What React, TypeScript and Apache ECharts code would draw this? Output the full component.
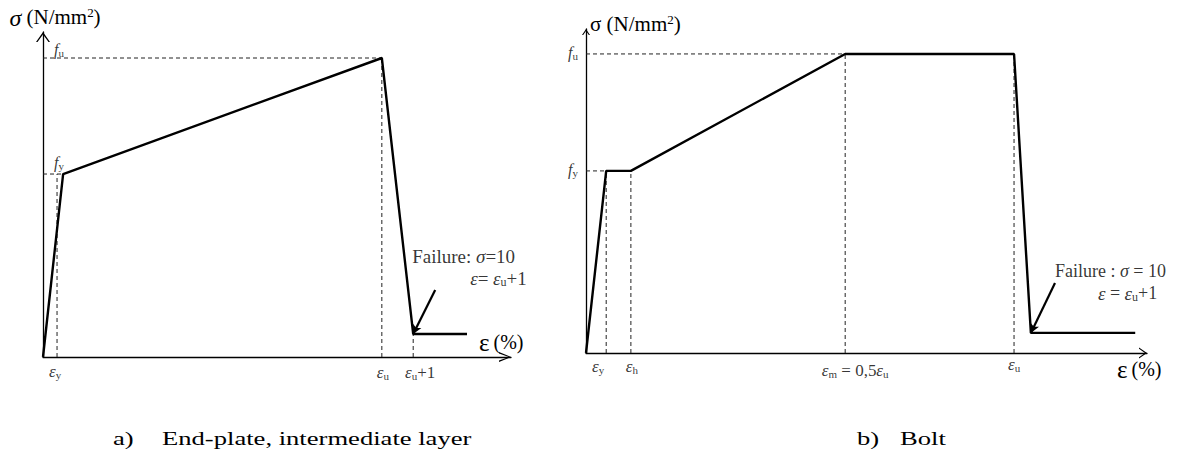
import React, { useEffect, useRef } from "react";
import * as echarts from "echarts";

const FONT = "'Liberation Serif', 'Times New Roman', serif";

// ---------- a) End-plate, intermediate layer (schematic, % of axis length) ----------
const plateStrain = [0, 4.3, 72.4, 79.1, 90.6];
const plateStress = [0, 56.3, 92.0, 7.1, 7.1];
const plateFy = 56.3;
const plateFu = 92.0;
const plateEpsYMark = 3.0;
const plateEpsU = 72.4;
const plateEpsU1 = 79.1;
const plateFailStress = 7.1;
const plateTickStrain = [plateEpsYMark, plateEpsU, plateEpsU1];
const plateTickLabels = ["{e|ε}{s|y}", "{e|ε}{s|u}", "{e|ε}{s|u}{n|+1}"];
const plateStressTicks = [plateFu, plateFy];
const plateStressLabels = ["{f|f}{s|u}", "{f|f}{s|y}"];
const plateArrowFrom = [83.8, 20.6];
const plateFailureText = ["{n|Failure: }{g|σ}{n|=10}", "{e|ε}{n|= }{e|ε}{s|u}{n|+1}"];

// ---------- b) Bolt ----------
const boltStrain = [0, 3.6, 8.0, 46.2, 76.3, 79.3, 97.9];
const boltStress = [0, 56.2, 56.2, 92.3, 92.3, 6.2, 6.2];
const boltFy = 56.2;
const boltFu = 92.3;
const boltEpsY = 3.6;
const boltEpsH = 8.0;
const boltEpsM = 46.2;
const boltEpsU = 76.3;
const boltFailStrain = 79.3;
const boltFailStress = 6.2;
const boltTickStrain = [boltEpsY, boltEpsH, boltEpsM, boltEpsU];
const boltTickLabels = [
  "{e|ε}{s|y}",
  "{e|ε}{s|h}",
  "{e|ε}{s|m}{n| = 0,5}{e|ε}{s|u}",
  "{e|ε}{s|u}",
];
const boltStressTicks = [boltFu, boltFy];
const boltStressLabels = ["{f|f}{s|u}", "{f|f}{s|y}"];
const boltArrowFrom = [83.6, 21.6];
const boltFailureText = ["{n|Failure : }{g|σ}{n| = 10}", "{e|ε}{n| = }{e|ε}{s|u}{n|+1}"];

const captionA = ["a)", "End-plate, intermediate layer"];
const captionB = ["b)", "Bolt"];

// ---------- layout (pixel offsets of labels from their anchor points) ----------
const plateTickOffsets = [[-2, 15], [1, 16], [7, 16]];
const plateStressOffsets = [[11, -8], [11, -11]];
const plateFailOffsets = [[-23, -35], [35, -13]];
const boltTickOffsets = [[-8, 14], [1, 14], [10, 18], [0, 12]];
const boltStressOffsets = [[-8, 0], [-8, 0]];
const boltFailOffsets = [[0, -13], [43, 9]];

function makeRich(main: number, eps: number, sub: number, drop: number, lh: number) {
  const subLh = Math.max(6, lh - drop);
  return {
    e: { fontFamily: FONT, fontStyle: "italic", fontSize: eps, color: "#000", verticalAlign: "top", lineHeight: lh },
    f: { fontFamily: FONT, fontStyle: "italic", fontSize: main, color: "#000", verticalAlign: "top", lineHeight: lh },
    g: { fontFamily: FONT, fontStyle: "italic", fontSize: main, color: "#000", verticalAlign: "top", lineHeight: lh },
    s: { fontFamily: FONT, fontSize: sub, color: "#000", verticalAlign: "top", lineHeight: subLh, padding: [drop, 0, 0, 0] },
    n: { fontFamily: FONT, fontSize: main, color: "#000", verticalAlign: "top", lineHeight: lh },
  };
}
const tickRich = makeRich(17, 17, 11, 7, 19);
const stressRich = makeRich(16, 16, 11, 6, 18);
const plateFailRich = makeRich(19, 19, 12, 7, 16);
const boltFailRich = makeRich(18, 19, 12, 7, 16);

function chevron(w: number, h: number, t: number) {
  const d = t * 1.6;
  return `path://M${w / 2},0L${w},${h}L${w - t},${h}L${w / 2},${d}L${t},${h}L0,${h}Z`;
}

function axisLine(sym: string, size: number[]) {
  return {
    show: true,
    onZero: false,
    symbol: ["none", sym],
    symbolSize: size,
    symbolOffset: [0, -size[1] / 2],
    lineStyle: { color: "#000", width: 1.3 },
  };
}

function valueAxis(gridIndex: number, extra: any) {
  return {
    type: "value",
    gridIndex,
    min: 0,
    max: 100,
    axisTick: { show: false },
    axisLabel: { show: false },
    splitLine: { show: false },
    ...extra,
  };
}

function dashed(idx: number, pts: number[][]) {
  return {
    type: "line",
    xAxisIndex: idx,
    yAxisIndex: idx,
    data: pts,
    symbol: "none",
    silent: true,
    z: 1,
    lineStyle: { color: "#222", width: 1, type: [4, 3] },
  };
}

function labels(idx: number, xs: number[], ys: number[], texts: string[], offs: number[][], align: string, rich: any) {
  return {
    type: "scatter",
    xAxisIndex: idx,
    yAxisIndex: idx,
    symbolSize: 0,
    silent: true,
    z: 5,
    data: xs.map((x, i) => ({
      value: [x, ys[i]],
      label: {
        show: true,
        formatter: texts[i],
        position: offs[i],
        align,
        verticalAlign: "middle",
        rich,
      },
    })),
  };
}

function curve(idx: number, xs: number[], ys: number[], from: number[], to: number[]) {
  return {
    type: "line",
    xAxisIndex: idx,
    yAxisIndex: idx,
    data: xs.map((x, i) => [x, ys[i]]),
    symbol: "none",
    z: 3,
    lineStyle: { color: "#000", width: 2.4 },
    markLine: {
      silent: true,
      symbol: ["none", "arrow"],
      symbolSize: [7, 9],
      label: { show: false },
      lineStyle: { color: "#000", width: 2.2, type: "solid" },
      data: [[{ coord: from }, { coord: to }]],
    },
  };
}

const nameRichX = {
  g: { fontFamily: FONT, fontSize: 25, color: "#000", lineHeight: 24 },
  n: { fontFamily: FONT, fontSize: 20, color: "#000", lineHeight: 24 },
};

export default function App() {
  const ref = useRef<HTMLDivElement>(null);
  useEffect(() => {
    if (!ref.current) return;
    const chart = echarts.init(ref.current, undefined, { renderer: "svg" });
    const option: any = {
      animation: false,
      backgroundColor: "#fff",
      grid: [
        { left: 43, top: 32, right: 1183 - 511, bottom: 455 - 357 },
        { left: 586, top: 29, right: 1183 - 1147, bottom: 455 - 353 },
      ],
      xAxis: [
        valueAxis(0, {
          axisLine: axisLine(chevron(10, 12, 1.4), [10, 12]),
          name: "{g|ε}{n|\u2009(%)}",
          nameLocation: "end",
          nameGap: -32,
          nameTextStyle: { verticalAlign: "middle", padding: [0, 0, 30, 0], rich: nameRichX },
        }),
        valueAxis(1, {
          axisLine: axisLine(chevron(11, 8, 1.3), [11, 8]),
          name: "{g|ε}{n|\u2009(%)}",
          nameLocation: "end",
          nameGap: -30,
          nameTextStyle: { verticalAlign: "middle", padding: [32, 0, 0, 0], rich: nameRichX },
        }),
      ],
      yAxis: [
        valueAxis(0, {
          axisLine: axisLine(chevron(14, 10, 1.5), [14, 10]),
          name: "{g|σ}{n| (N/mm}{p|2}{n|)}",
          nameLocation: "end",
          nameGap: 4,
          nameTextStyle: {
            align: "center",
            padding: [0, 0, 0, 24],
            rich: {
              g: { fontFamily: FONT, fontStyle: "italic", fontSize: 24, color: "#000", verticalAlign: "top", lineHeight: 22 },
              n: { fontFamily: FONT, fontSize: 21, color: "#000", verticalAlign: "top", lineHeight: 22 },
              p: { fontFamily: FONT, fontSize: 13, color: "#000", verticalAlign: "top", lineHeight: 13 },
            },
          },
        }),
        valueAxis(1, {
          axisLine: axisLine(chevron(8, 6, 1.2), [8, 6]),
          name: "{n|σ (N/mm}{p|2}{n|)}",
          nameLocation: "end",
          nameGap: -6,
          nameTextStyle: {
            align: "left",
            padding: [0, 0, 0, 4],
            rich: {
              n: { fontFamily: FONT, fontSize: 21, color: "#000", verticalAlign: "top", lineHeight: 22 },
              p: { fontFamily: FONT, fontSize: 13, color: "#000", verticalAlign: "top", lineHeight: 13 },
            },
          },
        }),
      ],
      series: [
        // guide lines, end-plate
        dashed(0, [[0, plateFu], [plateEpsU, plateFu]]),
        dashed(0, [[0, plateFy], [plateStrain[1], plateFy]]),
        dashed(0, [[plateEpsYMark, 0], [plateEpsYMark, plateFy]]),
        dashed(0, [[plateEpsU, 0], [plateEpsU, plateFu]]),
        dashed(0, [[plateEpsU1, 0], [plateEpsU1, plateFailStress]]),
        // guide lines, bolt
        dashed(1, [[0, boltFu], [boltEpsM, boltFu]]),
        dashed(1, [[0, boltFy], [boltEpsY, boltFy]]),
        dashed(1, [[boltEpsY, 0], [boltEpsY, boltFy]]),
        dashed(1, [[boltEpsH, 0], [boltEpsH, boltFy]]),
        dashed(1, [[boltEpsM, 0], [boltEpsM, boltFu]]),
        dashed(1, [[boltEpsU, 0], [boltEpsU, boltFu]]),
        // curves
        curve(0, plateStrain, plateStress, plateArrowFrom, [plateEpsU1, plateFailStress]),
        curve(1, boltStrain, boltStress, boltArrowFrom, [boltFailStrain, boltFailStress]),
        // labels
        labels(0, plateTickStrain, plateTickStrain.map(() => 0), plateTickLabels, plateTickOffsets, "center", tickRich),
        labels(0, plateStressTicks.map(() => 0), plateStressTicks, plateStressLabels, plateStressOffsets, "left", stressRich),
        labels(0, [plateArrowFrom[0], plateArrowFrom[0]], [plateArrowFrom[1], plateArrowFrom[1]], plateFailureText, plateFailOffsets, "left", plateFailRich),
        labels(1, boltTickStrain, boltTickStrain.map(() => 0), boltTickLabels, boltTickOffsets, "center", tickRich),
        labels(1, boltStressTicks.map(() => 0), boltStressTicks, boltStressLabels, boltStressOffsets, "right", stressRich),
        labels(1, [boltArrowFrom[0], boltArrowFrom[0]], [boltArrowFrom[1], boltArrowFrom[1]], boltFailureText, boltFailOffsets, "left", boltFailRich),
      ],
      graphic: [
        { type: "text", x: 113, y: 438, scaleX: 1.4, style: { text: captionA[0], font: `19px ${FONT}`, fill: "#000", verticalAlign: "middle" } },
        { type: "text", x: 162, y: 438, scaleX: 1.4, style: { text: captionA[1], font: `19px ${FONT}`, fill: "#000", verticalAlign: "middle" } },
        { type: "text", x: 857, y: 438, scaleX: 1.4, style: { text: captionB[0], font: `19px ${FONT}`, fill: "#000", verticalAlign: "middle" } },
        { type: "text", x: 900, y: 438, scaleX: 1.4, style: { text: captionB[1], font: `19px ${FONT}`, fill: "#000", verticalAlign: "middle" } },
      ],
    };
    chart.setOption(option);
    return () => chart.dispose();
  }, []);
  return (
    <div
      ref={ref}
      style={{ position: "absolute", left: 0, top: 0, width: 1183, height: 455, background: "#fff" }}
    />
  );
}
